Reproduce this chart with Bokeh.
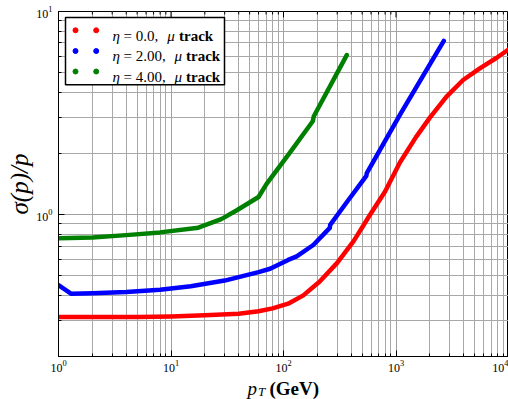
from bokeh.plotting import figure
from bokeh.layouts import column
from bokeh.models import Range1d, LinearScale, FixedTicker
from bokeh.core.properties import value
from bokeh.embed import file_html
from bokeh.resources import INLINE

# ---- data ----
red_pt = [1, 2, 5, 10, 20, 40, 60, 80, 110, 150, 210, 300, 420, 590, 800, 1080, 1500, 2000, 2800, 3950, 5560, 7800, 10000]
red_sigma = [0.313, 0.313, 0.313, 0.315, 0.319, 0.325, 0.334, 0.345, 0.364, 0.400, 0.468, 0.578, 0.74, 1.0, 1.3, 1.8, 2.4, 3.0, 3.8, 4.6, 5.25, 5.9, 6.5]

blue_pt = [1, 1.3, 2, 4, 8, 15, 30, 60, 76, 110, 131, 184, 258, 260, 365, 545, 550, 1083, 2660]
blue_sigma = [0.449, 0.407, 0.41, 0.416, 0.426, 0.444, 0.473, 0.521, 0.541, 0.598, 0.622, 0.708, 0.86, 0.89, 1.15, 1.55, 1.6, 3.1, 7.17]

green_pt = [1, 2, 4, 8, 17.5, 28, 38.5, 60, 71, 114, 182, 186, 365]
green_sigma = [0.764, 0.772, 0.792, 0.817, 0.862, 0.95, 1.05, 1.22, 1.42, 2.02, 2.88, 3.05, 6.1]

x_major_ticks = [1, 10, 100, 1000, 10000]
y_major_ticks = [1, 10]
x_minor_ticks = [m * 10 ** e for e in range(0, 4) for m in range(2, 10)]
y_minor_ticks = [round(m * 10.0 ** e, 3) for e in (-1, 0) for m in range(2, 10)]

legend_eta = ["0.0", "2.00", "4.00"]
legend_colors = ["#ff0000", "#0000ff", "#008000"]

SERIF = "Liberation Serif"

p = figure(width=508, height=374, x_axis_type="log", y_axis_type="log",
           x_range=Range1d(1, 1e4), y_range=Range1d(0.2, 10),
           output_backend="svg", toolbar_location=None,
           min_border_left=58, min_border_right=0, min_border_top=11, min_border_bottom=14)
p.background_fill_color = "white"
p.border_fill_color = "white"
p.outline_line_color = "black"
p.outline_line_width = 1

# helper ranges for the legend: pixels from frame left / frame bottom
p.extra_x_ranges = {"px": Range1d(0, 450)}
p.extra_y_ranges = {"py": Range1d(0, 349)}
p.extra_x_scales = {"px": LinearScale()}
p.extra_y_scales = {"py": LinearScale()}

H = 349.0
def fy(y_from_top):
    return H - y_from_top

xt = FixedTicker(ticks=x_major_ticks, minor_ticks=x_minor_ticks)
yt = FixedTicker(ticks=y_major_ticks, minor_ticks=y_minor_ticks)

for ax, t in ((p.xaxis[0], xt), (p.yaxis[0], yt)):
    ax.ticker = t
    ax.major_label_text_font = SERIF
    ax.major_label_text_font_size = "12px"
    ax.major_label_text_color = "black"
    ax.axis_line_color = "black"
    ax.major_tick_in = 6
    ax.major_tick_out = 0
    ax.minor_tick_in = 3
    ax.minor_tick_out = 0
    ax.major_tick_line_color = "black"
    ax.minor_tick_line_color = "black"
p.xaxis[0].major_label_standoff = 3
p.yaxis[0].major_label_standoff = 6

p.yaxis[0].axis_label = "σ(p)/p"
p.yaxis[0].axis_label_text_font = SERIF
p.yaxis[0].axis_label_text_font_style = "italic"
p.yaxis[0].axis_label_text_font_size = "25px"
p.yaxis[0].axis_label_text_color = "black"
p.yaxis[0].axis_label_standoff = 0

for g, t in ((p.xgrid[0], xt), (p.ygrid[0], yt)):
    g.ticker = t
    g.grid_line_color = "#a0a0a0"
    g.grid_line_width = 1
    g.minor_grid_line_color = "#a8a8a8"
    g.minor_grid_line_width = 1

# inward ticks along the top edge (x from the tick lists through the log scale)
p.segment(x0=x_major_ticks, x1=x_major_ticks, y0=[H] * len(x_major_ticks), y1=[H - 6] * len(x_major_ticks),
          y_range_name="py", line_color="black", line_width=1)
p.segment(x0=x_minor_ticks, x1=x_minor_ticks, y0=[H] * len(x_minor_ticks), y1=[H - 3] * len(x_minor_ticks),
          y_range_name="py", line_color="black", line_width=1)

for xs, ys, c in ((red_pt, red_sigma, legend_colors[0]),
                  (blue_pt, blue_sigma, legend_colors[1]),
                  (green_pt, green_sigma, legend_colors[2])):
    p.line(xs, ys, line_color=c, line_width=4.5, line_cap="round", line_join="round")

# legend (drawn in frame-pixel helper ranges)
p.quad(left=[7], right=[166], top=[fy(6)], bottom=[fy(74)], x_range_name="px", y_range_name="py",
       fill_color="white", fill_alpha=1, line_color="black", line_width=1.5)
row_y = [19, 40, 60.7]
dot_x, dot_y, dot_c = [], [], []
for i, c in enumerate(legend_colors):
    dot_x += [17, 37.7]
    dot_y += [fy(row_y[i]), fy(row_y[i])]
    dot_c += [c, c]
p.scatter(dot_x, dot_y, x_range_name="px", y_range_name="py", size=5, color=dot_c)

base = [fy(r + 5.3) for r in row_y]
mu_x = [108.7, 116, 116]
tr_x = [120.5, 127.5, 127.5]
common = dict(x_range_name="px", y_range_name="py", text_align="left", text_baseline="alphabetic",
              text_font=value(SERIF), text_font_size="15px", text_color="black")
p.text(x=[54, 54, 54], y=base, text=["η"] * 3, text_font_style="italic", **common)
p.text(x=[65, 65, 65], y=base, text=["= " + e + "," for e in legend_eta], text_font_style="normal", **common)
p.text(x=mu_x, y=base, text=["μ"] * 3, text_font_style="italic", **common)
p.text(x=tr_x, y=base, text=["track"] * 3, text_font_style="bold", **common)

# x-axis label strip: same borders as the main plot, x in page pixels, y up from page bottom
q = figure(width=508, height=25, x_range=Range1d(58, 508), y_range=Range1d(0, 25),
           output_backend="svg", toolbar_location=None,
           min_border_left=58, min_border_right=0, min_border_top=0, min_border_bottom=0,
           x_axis_location=None, y_axis_location=None)
q.grid.visible = False
q.outline_line_color = None
q.background_fill_color = "white"
q.border_fill_color = "white"
lab = dict(text_align="left", text_baseline="alphabetic", text_font=value(SERIF), text_color="black")
q.text(x=[247], y=[10.7], text=["p"], text_font_style="italic", text_font_size="19px", **lab)
q.text(x=[257.5], y=[8.5], text=["T"], text_font_style="italic", text_font_size="13px", **lab)
q.text(x=[269], y=[10.7], text=["(GeV)"], text_font_style="bold", text_font_size="19px", **lab)

layout = column(p, q, spacing=0)
open("out.html", "w").write(file_html(layout, INLINE))
